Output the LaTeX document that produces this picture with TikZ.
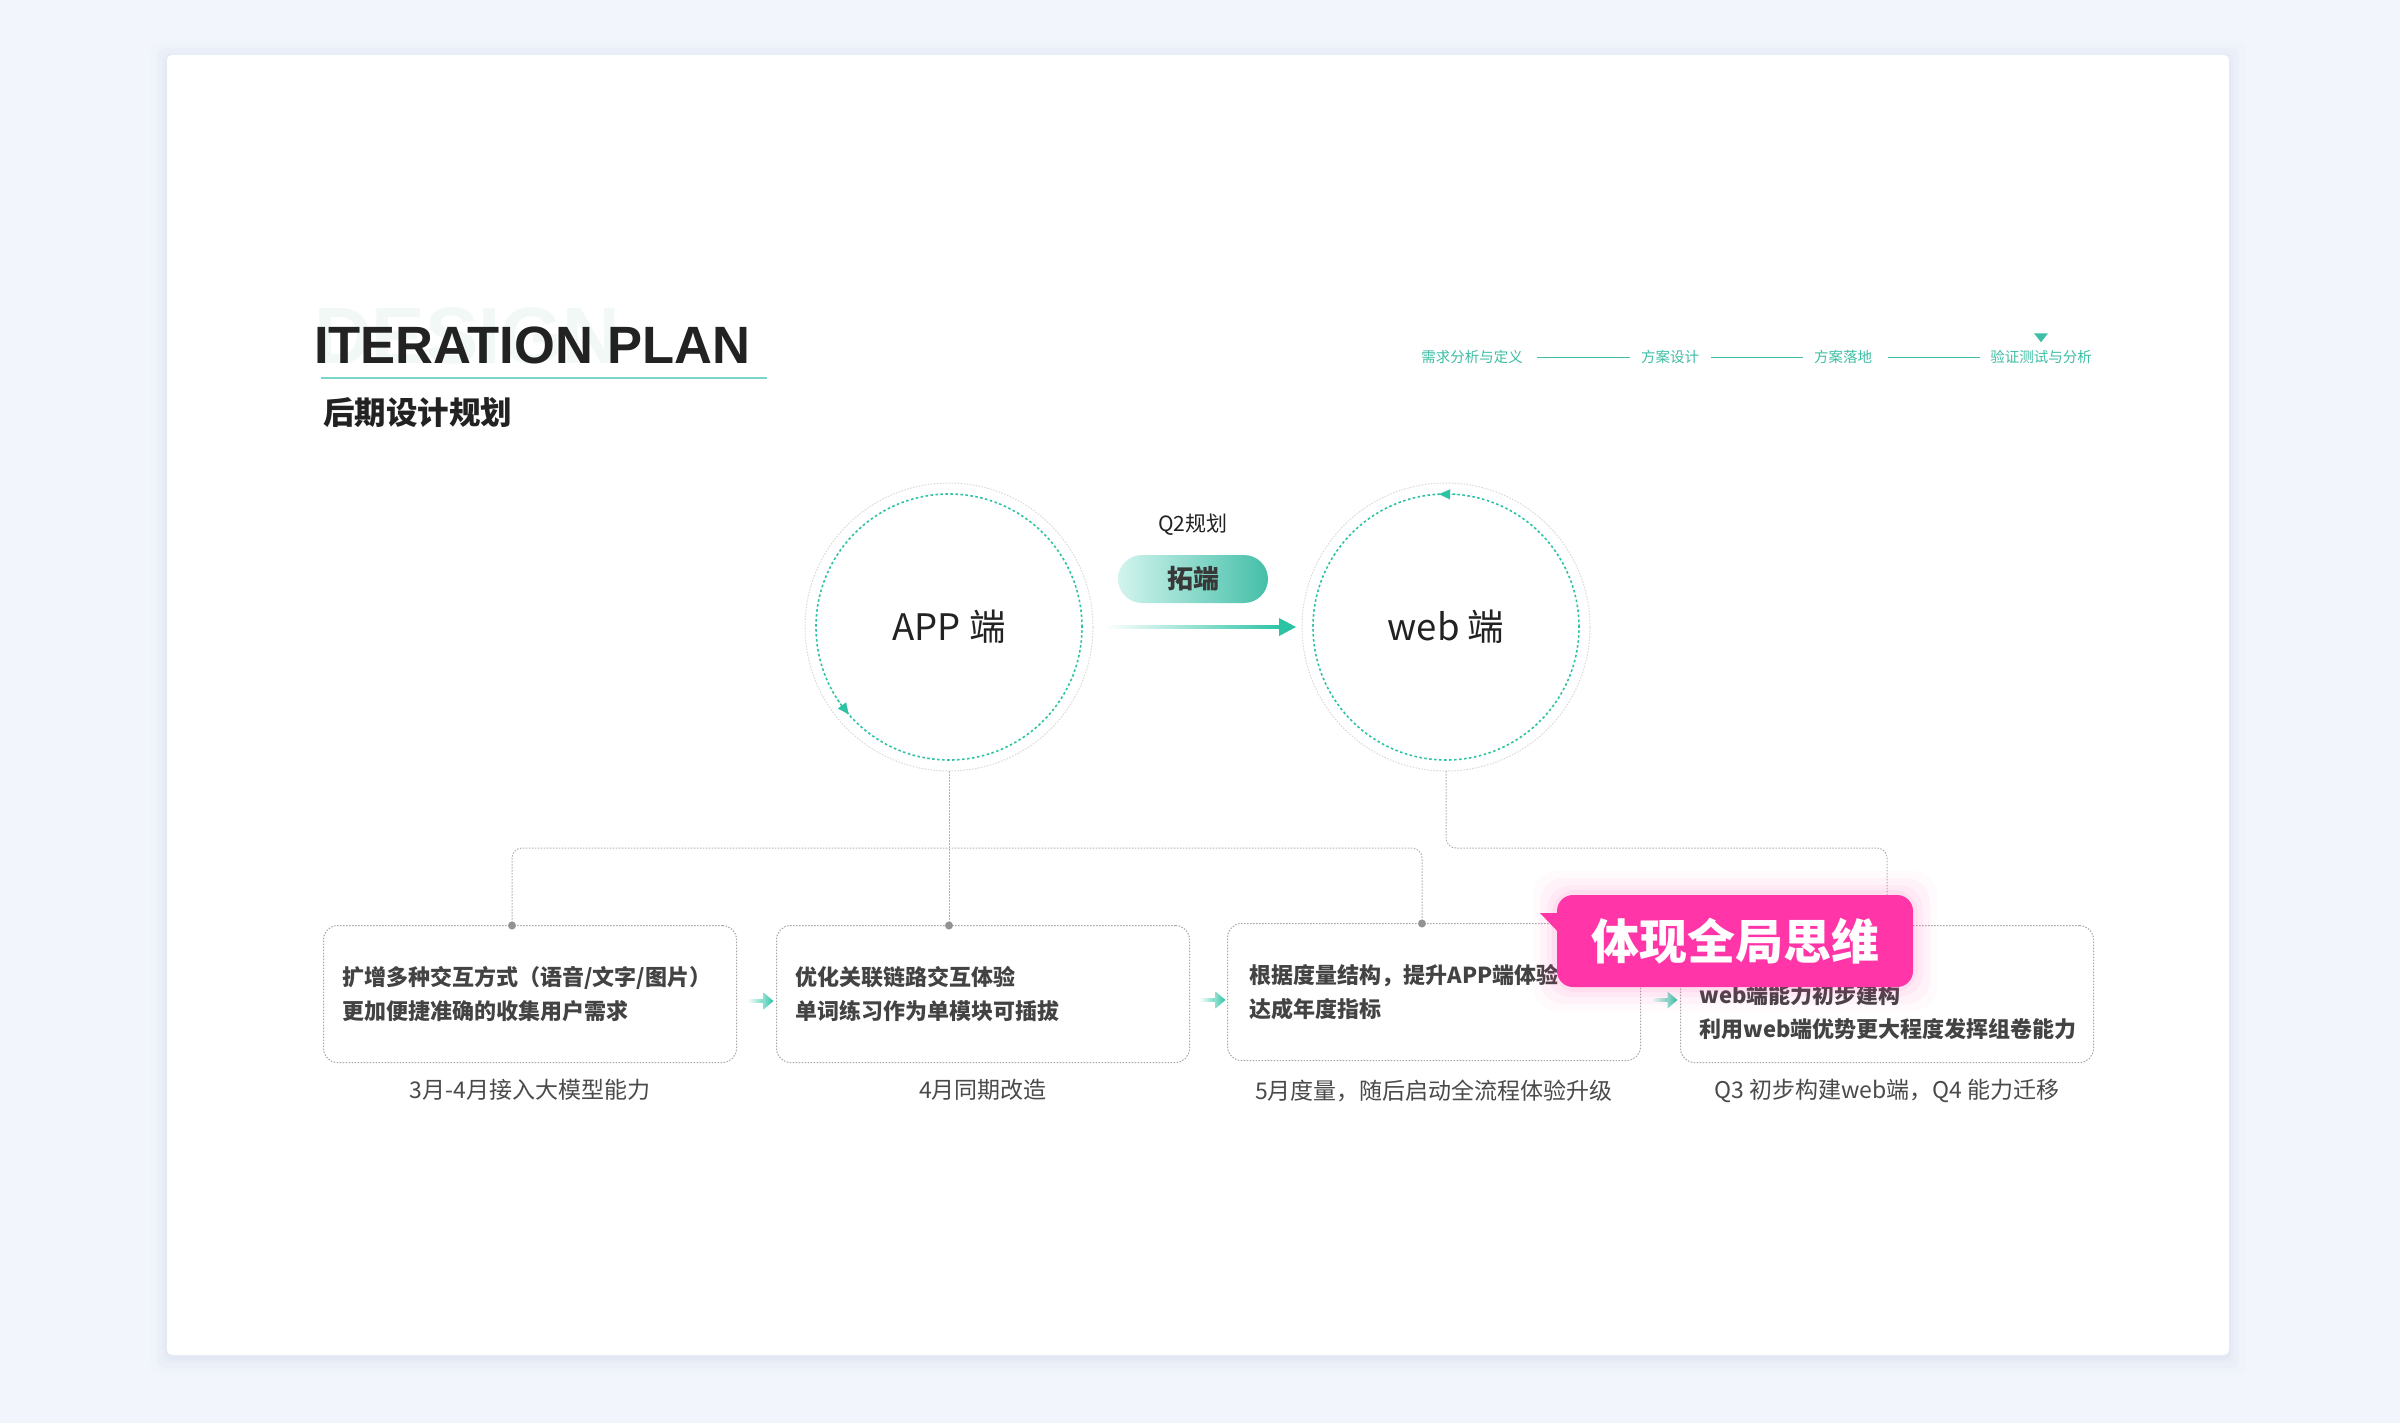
\documentclass[tikz,border=0pt]{standalone}
\usepackage{fontspec}
\setmainfont{Noto Sans CJK SC}
\newfontfamily\titlefont{Liberation Sans}
\usetikzlibrary{positioning,calc,arrows.meta}

\definecolor{bgblue}{HTML}{F2F6FC}
\definecolor{shadowblue}{HTML}{D8DEF2}
\definecolor{tealring}{HTML}{2BC3A4}
\definecolor{tealrule}{HTML}{7AD6CD}
\definecolor{steptxt}{HTML}{3DBEA5}
\definecolor{pillleft}{HTML}{D2F4EE}
\definecolor{pillright}{HTML}{44BFA8}
\definecolor{hotpink}{HTML}{FF35A8}
\definecolor{boxline}{HTML}{A6A6A6}
\definecolor{inktxt}{HTML}{222222}
\definecolor{captxt}{HTML}{4A4A4A}
\definecolor{ghost}{HTML}{F1F8F6}

\tikzset{
    every node/.style={inner sep=0pt, outer sep=0pt},
    steplbl/.style={text=steptxt, font=\fontsize{14.5}{16}\selectfont},
    stepline/.style={draw=steptxt, line width=1pt},
    halo/.style={circle, draw=gray!30, line width=1pt, dash pattern=on 1.5pt off 1.5pt, minimum size=288pt},
    ring/.style={circle, draw=tealring, line width=1.6pt, dash pattern=on 2.5pt off 2.5pt,
        minimum size=266pt, text=inktxt, font=\fontsize{36.5}{40}\selectfont},
    pill/.style={rounded corners=24pt, minimum width=150pt, minimum height=48pt,
        left color=pillleft, right color=pillright, text=inktxt!90, font=\bfseries\fontsize{26}{28}\selectfont},
    planbox/.style={draw=boxline, line width=1pt, dash pattern=on 1.5pt off 1.5pt, rounded corners=14pt,
        fill=white, minimum width=413pt, minimum height=137pt},
    boxtxt/.style={text=inktxt!85, font=\bfseries\fontsize{22}{34}\selectfont, align=left, text width=375pt},
    caption/.style={text=captxt, font=\fontsize{23}{26}\selectfont},
    link/.style={draw=gray!60, line width=1pt, dash pattern=on 1.5pt off 1.5pt, rounded corners=10pt},
    joint/.style={circle, fill=gray!85, minimum size=8pt},
    bubble/.style={fill=hotpink, rounded corners=16pt, minimum width=356pt, minimum height=92pt,
        text=white, font=\bfseries\fontsize{48}{50}\selectfont}
}

\begin{document}
\begin{tikzpicture}[x=1pt, y=-1pt]
        \useasboundingbox (0,0) rectangle (2400,1423);
        \fill[bgblue] (0,0) rectangle (2400,1423);
        % card with soft shadow
        \foreach \d/\o in {16/0.10, 10/0.14, 5/0.18, 2/0.25}
            \fill[shadowblue, opacity=\o, rounded corners=8pt] ({167-\d},{55-\d+3}) rectangle ({2229+\d},{1355+\d+3});
        \fill[white, rounded corners=5pt] (167,55) rectangle (2229,1355);

        % title
        \node[anchor=base west, text=ghost, font=\titlefont\bfseries\fontsize{80}{80}\selectfont] (ghosttxt) at (314,363) {DESIGN};
        \node[anchor=base west, text=inktxt, font=\titlefont\bfseries\fontsize{52.5}{54}\selectfont] (title) at (314,363) {ITERATION PLAN};
        \draw[tealrule, line width=2pt] (321,378) -- (767,378);
        \node[anchor=west, text=inktxt, font=\bfseries\fontsize{31.5}{33}\selectfont] (subtitle) at (323,413) {后期设计规划};

        % steps
        \node[steplbl] (s1) at (1472,357) {需求分析与定义};
        \node[steplbl] (s2) at (1670,357) {方案设计};
        \node[steplbl] (s3) at (1843,357) {方案落地};
        \node[steplbl] (s4) at (2041,357) {验证测试与分析};
        \draw[stepline, shorten <=14pt, shorten >=11pt] (s1) -- (s2);
        \draw[stepline, shorten <=12pt, shorten >=11pt] (s2) -- (s3);
        \draw[stepline, shorten <=16pt, shorten >=10pt] (s3) -- (s4);
        \fill[steptxt] ([xshift=-7pt,yshift=17pt]s4.north) -- ++(14,0) -- ++(-7,9) -- cycle;

        % the two ends
        \node[halo] (apphalo) at (949,627) {};
        \node[ring] (app) at (949,627) {APP 端};
        \node[halo] (webhalo) at (1446,627) {};
        \node[ring] (web) at (1446,627) {web 端};
        \draw[tealring, line width=0.2pt, -{Triangle[length=11pt,width=10pt]}] (app.213) -- (app.221);
        \draw[tealring, line width=0.2pt, -{Triangle[length=11pt,width=10pt]}] (web.85) -- (web.93);

        \node[text=inktxt, font=\fontsize{21}{24}\selectfont] (q2) at (1193,525) {Q2规划};
        \node[pill] (tuo) at (1193,579) {拓端};
        \shade[left color=white, right color=tealring] ([xshift=12pt,yshift=1.5pt]apphalo.east) rectangle ([xshift=-20pt,yshift=-1.5pt]webhalo.west);
        \fill[tealring] ([xshift=-23pt,yshift=9pt]webhalo.west) -- ([xshift=-6pt]webhalo.west) -- ([xshift=-23pt,yshift=-9pt]webhalo.west) -- cycle;

        % plan boxes
        \node[planbox] (b1) at (530,994) {};
        \node[planbox, right=40pt of b1] (b2) {};
        \node[planbox, right=38pt of b2, yshift=2pt] (b3) {};
        \node[planbox, right=40pt of b3, yshift=-2pt] (b4) {};
        \node[boxtxt] at (b1) {扩增多种交互方式（语音/文字/图片）\\更加便捷准确的收集用户需求};
        \node[boxtxt] at (b2) {优化关联链路交互体验\\单词练习作为单模块可插拔};
        \node[boxtxt] at ([xshift=3pt]b3.center) {根据度量结构，提升APP端体验\\达成年度指标};
        \node[boxtxt] at ([yshift=-18pt]b4.center) {web端能力初步建构\\利用web端优势更大程度发挥组卷能力};

        \node[caption, below=17pt of b1] (c1) {3月-4月接入大模型能力};
        \node[caption, below=17pt of b2] (c2) {4月同期改造};
        \node[caption, below=19pt of b3] (c3) {5月度量，随后启动全流程体验升级};
        \node[caption, below=17pt of b4] (c4) {Q3 初步构建web端，Q4 能力迁移};

        \foreach \a/\b in {b1/b2, b2/b3, b3/b4} {
            \coordinate (m) at ($(\a.east)!0.5!(\b.west)+(0,7)$);
            \shade[left color=white, right color=tealring!70] ([xshift=-9pt,yshift=1.5pt]m) rectangle ([xshift=8pt,yshift=-1.5pt]m);
            \shade[left color=tealring!55, right color=tealring] ([xshift=7pt,yshift=8.5pt]m) -- ([xshift=17pt]m) -- ([xshift=7pt,yshift=-8.5pt]m) -- cycle;
        }

        % links
        \coordinate (bus) at (0,848);
        \coordinate (j1) at ([xshift=-18pt]b1.north);
        \coordinate (j2) at (apphalo.south |- b2.north);
        \coordinate (j3) at ([xshift=-12pt]b3.north);
        \coordinate (j4) at (b4.north);
        \draw[link] (apphalo.south) -- (j2);
        \draw[link] (j1) -- (j1 |- bus) -- (j3 |- bus) -- (j3);
        \draw[link] (webhalo.south) -- (webhalo.south |- bus) -- (j4 |- bus) -- (j4);
        \foreach \j in {j1,j2,j3,j4}
            \node[joint] at (\j) {};

        % pink note
        \coordinate (tipnw) at (1557,895);
        \coordinate (tipse) at (1913,987);
        \foreach \g/\o in {24/0.025, 17/0.035, 10/0.05, 5/0.06}
            \fill[hotpink, opacity=\o, rounded corners=24pt] ([shift={(-\g pt,\g pt)}]tipnw) rectangle ([shift={(\g pt,-\g pt)}]tipse);
        \node[bubble] (think) at ($(tipnw)!0.5!(tipse)$) {体现全局思维};
        \fill[hotpink] ([yshift=-18pt]think.north west) -- ++(-17,0) -- ([xshift=4pt,yshift=-40pt]think.north west) -- cycle;
    \end{tikzpicture}
\end{document}
